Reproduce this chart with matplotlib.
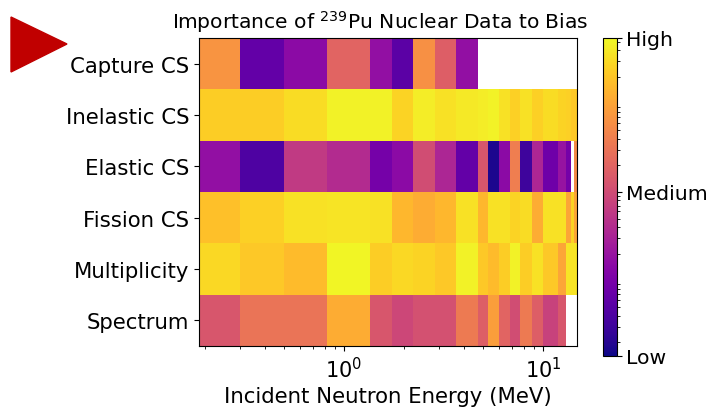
import numpy as np
import matplotlib.pyplot as plt
from matplotlib.colors import LogNorm
from matplotlib.patches import Polygon

nan = np.nan

# energy group edges (MeV)
edges = [0.187, 0.3, 0.5, 0.82, 1.35, 1.75, 2.23, 2.87, 3.65, 4.7, 5.3,
         6.0, 6.8, 7.7, 8.8, 10.0, 11.9, 13.0, 13.9, 14.3, 14.9]

rows = ['Capture CS', 'Inelastic CS', 'Elastic CS', 'Fission CS', 'Multiplicity', 'Spectrum']

capture = [6.8, 0.063, 0.15, 2.0, 0.18, 0.054, 6.3, 1.7, 0.18,
           nan, nan, nan, nan, nan, nan, nan, nan, nan, nan, nan]
inelastic = [23, 23, 31.5, 47, 47, 27, 43, 34, 40, 43,
             47, 34, 25, 34, 25, 31.5, 27, 25, 21, 21]
elastic = [0.18, 0.042, 0.60, 0.40, 0.094, 0.15, 1.06, 0.34, 0.063, 1.35,
           0.017, 0.15, 3.9, 0.030, 0.34, 0.080, 0.195, 0.094, nan, 5.3]
fission = [18, 25, 34, 37, 34, 15, 12, 15, 34, 15,
           34, 34, 27, 31.5, 12, 34, 34, 10, 27, 10]
multiplicity = [29, 21, 16.5, 51, 23, 29, 27, 21, 47, 21,
                16.5, 23, 47, 23, 34, 21, 10, 37, 37, 37]
spectrum = [1.35, 3.0, 3.0, 12, 1.35, 0.90, 1.15, 1.15, 3.6, 1.7,
            8.6, 2.0, 1.06, 3.6, 1.7, 0.77, 1.35, nan, nan, nan]

vmin, vmid, vmax = 0.014, 1.0, 55.0

Z = np.ma.masked_invalid(np.array([spectrum, multiplicity, fission,
                                   elastic, inelastic, capture], dtype=float))

fig = plt.figure(figsize=(7.12, 4.14), dpi=100)
ax = fig.add_axes([0.2795, 0.162, 0.5313, 0.744])

mesh = ax.pcolormesh(edges, np.arange(7), Z, cmap='plasma',
                     norm=LogNorm(vmin=vmin, vmax=vmax))
ax.set_xscale('log')
ax.set_xlim(edges[0], edges[-1])
ax.set_ylim(0, 6)
ax.set_yticks(np.arange(6) + 0.5)
ax.set_yticklabels(rows[::-1], fontsize=15.3)
ax.tick_params(axis='x', labelsize=15)
ax.set_xlabel('Incident Neutron Energy (MeV)', fontsize=15.3)
ax.set_title(r'Importance of $^{239}$Pu Nuclear Data to Bias', fontsize=14.6, pad=7, x=0.479)

cax = fig.add_axes([0.8465, 0.138, 0.0197, 0.768])
cb = fig.colorbar(mesh, cax=cax)
cb.set_ticks([vmin, vmid, vmax])
cb.set_ticklabels(['Low', 'Medium', 'High'])
cb.ax.tick_params(labelsize=14.7)

# red arrow marker at top-left
tri = Polygon([[11 / 712, 1 - 18 / 414], [11 / 712, 1 - 73 / 414], [67 / 712, 1 - 45 / 414]],
              closed=True, transform=fig.transFigure, color='#C00000')
fig.patches.append(tri)

fig.savefig('out.png', dpi=100)
